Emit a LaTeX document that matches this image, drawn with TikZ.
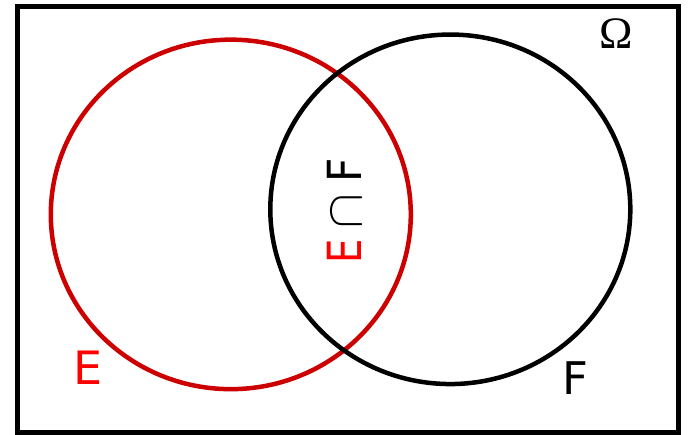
\documentclass[tikz,border=0pt]{standalone}
\usepackage{fontspec}
\usepackage{graphicx}
\usetikzlibrary{shapes.geometric}
\newfontfamily\lblfont{DejaVu Sans}
\newfontfamily\omegafont{Liberation Serif}
\definecolor{circred}{RGB}{204,0,0}
\definecolor{txtred}{RGB}{255,0,0}
\newcommand{\bigcapsym}{{\fontsize{10}{12}\selectfont\scalebox{5.2}{$\cap$}}}
\begin{document}
\begin{tikzpicture}[x=1pt,y=-1pt,
  setcirc/.style={ellipse, draw, line width=4.5pt, inner sep=0pt,
    minimum width=360pt, minimum height=349.5pt},
  lbl/.style={font=\lblfont, inner sep=0pt}]
\useasboundingbox (0,0) rectangle (688,434);
\fill[white] (0,0) rectangle (688,434);
\node[draw, line width=5pt, minimum width=661pt, minimum height=425.5pt, inner sep=0pt] (omega) at (347.5,219.25) {};
\node[setcirc, draw=circred] (E) at (230.8,214.4) {};
\node[setcirc, draw=black] (F) at (450.3,209.3) {};
\node[inner sep=0pt, font=\omegafont\fontsize{45}{45}\selectfont] (om) at (616,34) {Ω};
\node[lbl, text=txtred, font=\lblfont\fontsize{46}{46}\selectfont] (El) at (88,368) {E};
\node[lbl, font=\lblfont\fontsize{45}{45}\selectfont] (Fl) at (575,378.5) {F};
\node[lbl, rotate=90, anchor=base, font=\lblfont\fontsize{47}{47}\selectfont] (EF) at (361,211)
  {\scalebox{0.82}[1]{\textcolor{txtred}{E}}\hspace{11pt}\bigcapsym\hspace{11pt}\scalebox{0.9}[1]{F}};
\end{tikzpicture}
\end{document}
